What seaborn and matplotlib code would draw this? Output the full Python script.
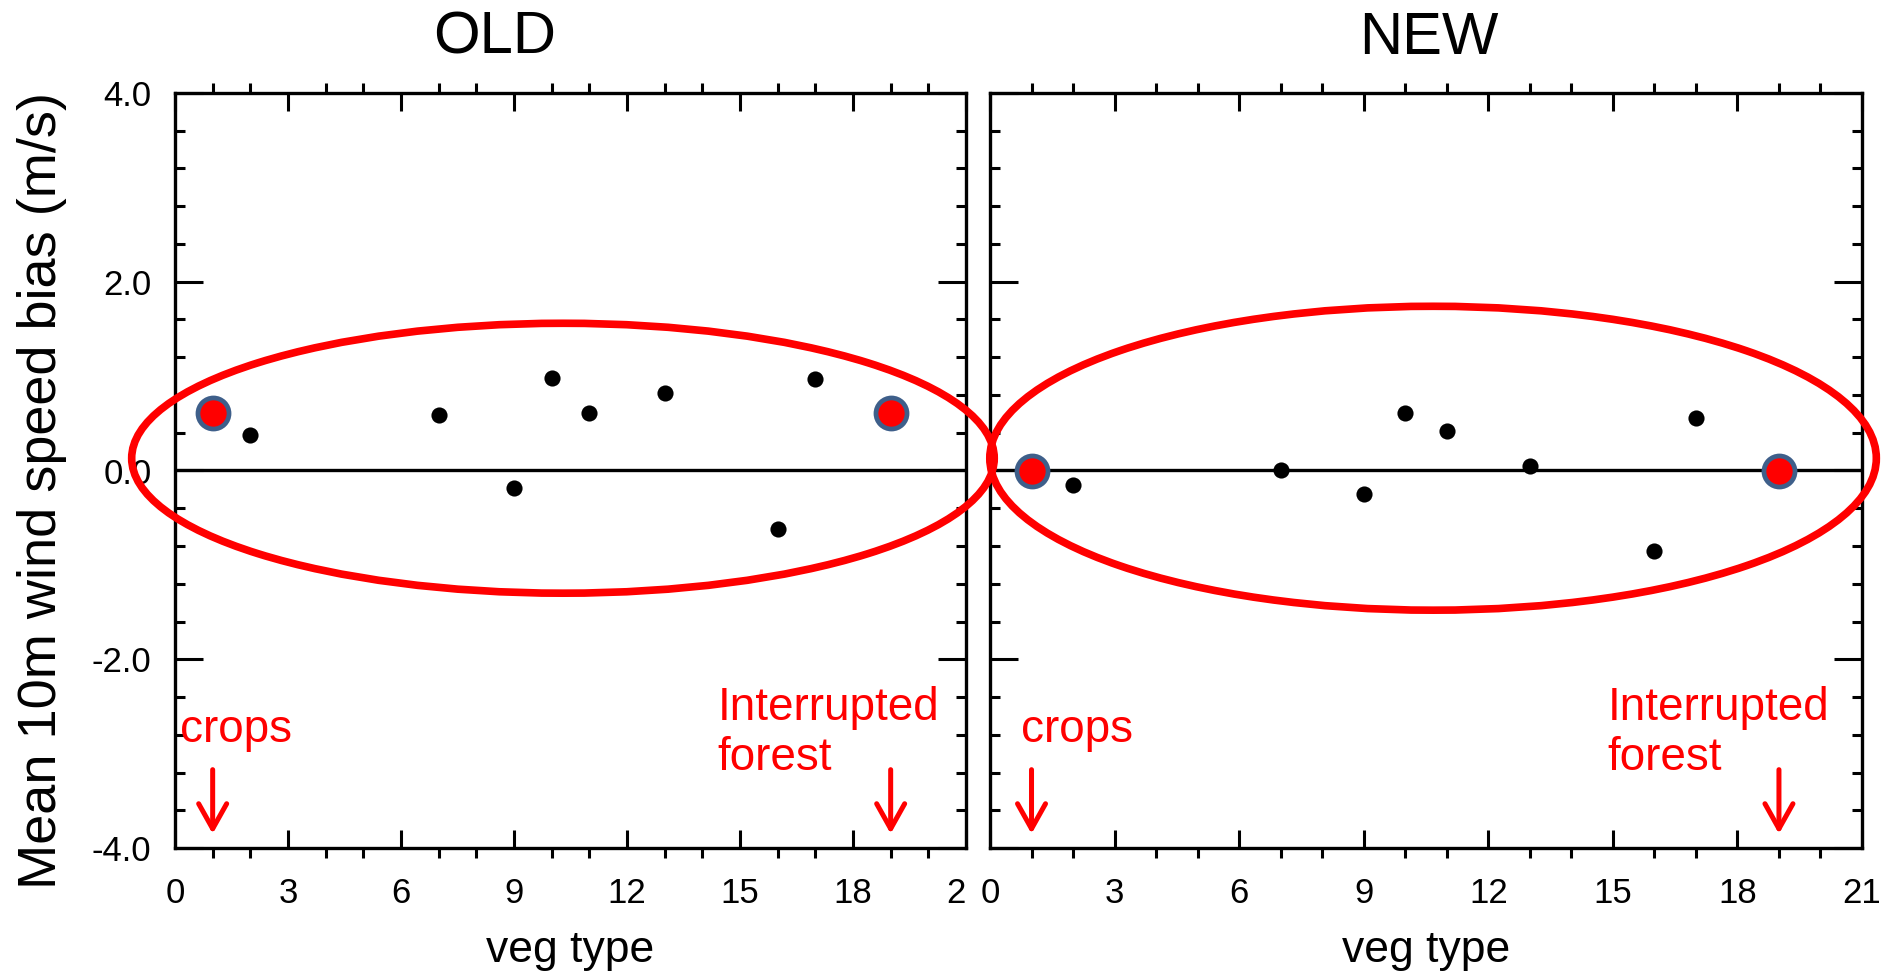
import numpy as np
import pandas as pd
import seaborn as sns
import matplotlib.pyplot as plt
from matplotlib.patches import Ellipse
from matplotlib.ticker import MultipleLocator
from matplotlib.transforms import Bbox, TransformedBbox

# data
veg_type = [2, 7, 9, 10, 11, 13, 16, 17]
bias_old = [0.38, 0.59, -0.19, 0.98, 0.61, 0.82, -0.62, 0.97]
bias_new = [-0.15, 0.01, -0.25, 0.61, 0.42, 0.05, -0.85, 0.56]
veg_mark = [1, 19]          # crops, interrupted forest
mark_old = [0.61, 0.61]
mark_new = [-0.01, -0.01]
panel_titles = ['OLD', 'NEW']
xticks = [0, 3, 6, 9, 12, 15, 18, 21]
yticks = [-4.0, -2.0, 0.0, 2.0, 4.0]

sns.set_style('ticks')
plt.rcParams['font.family'] = ['Liberation Sans', 'DejaVu Sans']
plt.rcParams['axes.unicode_minus'] = False
for k in ['text.color', 'axes.labelcolor', 'xtick.color', 'ytick.color', 'axes.edgecolor']:
    plt.rcParams[k] = 'black'

W, H = 1883, 972
fig = plt.figure(figsize=(W / 100, H / 100), dpi=100)
ax1 = fig.add_axes([175 / W, 124 / H, 791 / W, 755 / H])
ax2 = fig.add_axes([990 / W, 124 / H, 872 / W, 755 / H])

df_old = pd.DataFrame({'veg': veg_type, 'bias': bias_old})
df_new = pd.DataFrame({'veg': veg_type, 'bias': bias_new})
df_mark = pd.DataFrame({'veg': veg_mark, 'old': mark_old, 'new': mark_new})

for ax, df, col in [(ax1, df_old, 'old'), (ax2, df_new, 'new')]:
    ax.axhline(0, color='black', lw=2.4, zorder=2)
    sns.scatterplot(data=df, x='veg', y='bias', ax=ax, color='black',
                    s=135, linewidth=0, zorder=3)
    sns.scatterplot(data=df_mark, x='veg', y=col, ax=ax, color='red',
                    edgecolor='#3e5f8a', linewidth=3.4, s=500, zorder=4)
    ax.set_xlim(0, 21)
    ax.set_ylim(-4, 4)
    ax.set_xticks(xticks)
    ax.set_yticks(yticks)
    ax.set_yticklabels(['%.1f' % v for v in yticks])
    ax.xaxis.set_minor_locator(MultipleLocator(1))
    ax.yaxis.set_minor_locator(MultipleLocator(0.4))
    ax.tick_params(axis='x', which='major', direction='in', length=13, width=2.2,
                   top=True, bottom=True, labelsize=25, pad=21)
    ax.tick_params(axis='x', which='minor', direction='out', length=7, width=2.2,
                   top=True, bottom=True)
    ax.tick_params(axis='y', which='major', direction='in', length=20, width=2.2,
                   left=True, right=True, labelsize=25, pad=17)
    ax.tick_params(axis='y', which='minor', direction='in', length=7, width=2.2,
                   left=True, right=True)
    for sp in ax.spines.values():
        sp.set_linewidth(2.4)
        sp.set_color('black')
    ax.set_ylabel('')
    ax.set_xlabel('veg type', fontsize=32)
    ax.xaxis.set_label_coords(0.5, -0.108)
    # arrows to the highlighted veg types
    for v in veg_mark:
        ax.annotate('', xy=(v, -3.85), xytext=(v, -3.17),
                    arrowprops=dict(arrowstyle='->,head_length=0.75,head_width=0.42',
                                    color='red', lw=3.6, shrinkA=0, shrinkB=0,
                                    mutation_scale=24))

ax2.tick_params(axis='y', which='both', labelleft=False)

ax1.set_ylabel('Mean 10m wind speed bias (m/s)', fontsize=39)
ax1.yaxis.set_label_coords(-0.1365, 0.474)

# red labels
ax1.text(0.13, -2.88, 'crops', color='red', fontsize=33, va='baseline')
ax1.text(14.4, -2.28, 'Interrupted\nforest', color='red', fontsize=33, va='top')
ax2.text(0.75, -2.88, 'crops', color='red', fontsize=33, va='baseline')
ax2.text(14.87, -2.28, 'Interrupted\nforest', color='red', fontsize=33, va='top')

# ellipses around the points, drawn over both panels
fig.add_artist(Ellipse((10.3, 0.13), 22.9, 2.86, transform=ax1.transData,
                       fill=False, ec='red', lw=5.5, zorder=5))
fig.add_artist(Ellipse((10.67, 0.13), 21.35, 3.22, transform=ax2.transData,
                       fill=False, ec='red', lw=5.5, zorder=5))

fig.text(495 / W, 1 - 38 / H, panel_titles[0], ha='center', va='center', fontsize=43)
fig.text(1429 / W, 1 - 38 / H, panel_titles[1], ha='center', va='center', fontsize=43)

# the last label of the left panel is cut off at the panel edge
clip = TransformedBbox(Bbox([[0, 0], [968 / W, 1]]), fig.transFigure)
last = ax1.xaxis.get_major_ticks()[-1]
last.label1.set_clip_box(clip)
last.label1.set_clip_on(True)

fig.savefig('out.png', dpi=100)
